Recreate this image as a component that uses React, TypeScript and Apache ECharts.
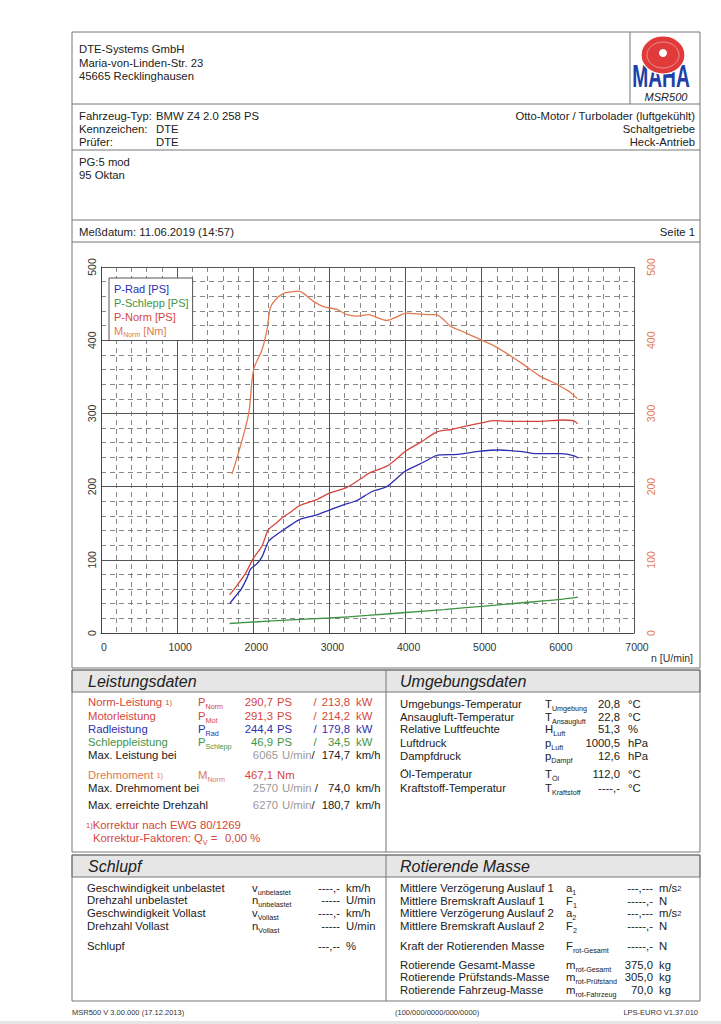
import React, { useEffect, useRef } from "react";
import * as echarts from "echarts";

// ---- chart data ----
const rpmRad = [1689, 1780, 1842, 1920, 1962, 2050, 2115, 2200, 2300, 2398, 2500, 2607, 2825, 3000, 3185, 3360, 3556, 3753, 3870, 3994, 4190, 4300, 4421, 4683, 4956, 5230, 5500, 5721, 6049, 6213, 6268];
const psRad = [40, 52, 60, 76, 87, 95, 104, 125, 134, 141, 148, 155, 161, 168, 175, 181, 193, 200, 210, 221, 231, 237, 243, 244, 248, 250, 248, 245, 245, 242, 239];

const rpmSchlepp = [1690, 2000, 2500, 3000, 3500, 4000, 4500, 5000, 5500, 6000, 6265];
const psSchlepp = [13, 15, 18, 20.5, 24, 28, 32, 36.5, 41, 45.5, 49];

const rpmNorm = [1689, 1787, 1896, 1995, 2115, 2197, 2300, 2388, 2500, 2607, 2825, 3000, 3229, 3400, 3534, 3753, 3870, 3994, 4190, 4421, 4600, 4809, 5000, 5164, 5437, 5765, 6066, 6202, 6260];
const psNorm = [52, 65, 81, 101, 119, 141, 150, 158, 166, 174, 182, 191, 199, 210, 219, 228, 237, 248, 260, 275, 278, 283, 287, 290, 289, 289, 291, 290, 286];

const rpmTorque = [1720, 1830, 1940, 2005, 2115, 2180, 2223, 2289, 2398, 2500, 2594, 2660, 2791, 2922, 3098, 3229, 3360, 3512, 3600, 3753, 3885, 4016, 4150, 4278, 4400, 4500, 4590, 4700, 4809, 5000, 5150, 5328, 5546, 5765, 5984, 6100, 6175, 6257];
const nmTorque = [217, 255, 300, 360, 387, 414, 444, 455, 464, 466, 467, 464, 453, 446, 442, 435, 433, 435, 432, 427, 432, 437, 436, 435, 435, 428, 419, 414, 409, 400, 393, 382, 367, 351, 340, 333, 328, 320];

const seriesNames = ["P-Rad [PS]", "P-Schlepp [PS]", "P-Norm [PS]", "M_Norm [Nm]"];

// ---- table texts ----
const leistRows = [
  { label: "Norm-Leistung", sup: "1)", sym: "P", sub: "Norm", v1: "290,7", v2: "213,8", c: "red" },
  { label: "Motorleistung", sup: "", sym: "P", sub: "Mot", v1: "291,3", v2: "214,2", c: "red" },
  { label: "Radleistung", sup: "", sym: "P", sub: "Rad", v1: "244,4", v2: "179,8", c: "blue" },
  { label: "Schleppleistung", sup: "", sym: "P", sub: "Schlepp", v1: "46,9", v2: "34,5", c: "green" },
];
const maxRows = [
  { label: "Max. Leistung bei", n: "6065", spaced: false, v: "174,7" },
  { label: "Max. Drehmoment bei", n: "2570", spaced: true, v: "74,0" },
  { label: "Max. erreichte Drehzahl", n: "6270", spaced: false, v: "180,7" },
];
const umgRows: [string, string, string, string, string][] = [
  ["Umgebungs-Temperatur", "T", "Umgebung", "20,8", "°C"],
  ["Ansaugluft-Temperatur", "T", "Ansaugluft", "22,8", "°C"],
  ["Relative Luftfeuchte", "H", "Luft", "51,3", "%"],
  ["Luftdruck", "p", "Luft", "1000,5", "hPa"],
  ["Dampfdruck", "p", "Dampf", "12,6", "hPa"],
  ["Öl-Temperatur", "T", "Öl", "112,0", "°C"],
  ["Kraftstoff-Temperatur", "T", "Kraftstoff", "----,-", "°C"],
];
const umgY = [704, 717, 729, 743, 756, 774, 788];
const schlupfRows: [string, string, string, string, string][] = [
  ["Geschwindigkeit unbelastet", "v", "unbelastet", "----,-", "km/h"],
  ["Drehzahl unbelastet", "n", "unbelastet", "-----", "U/min"],
  ["Geschwindigkeit Vollast", "v", "Vollast", "----,-", "km/h"],
  ["Drehzahl Vollast", "n", "Vollast", "-----", "U/min"],
  ["Schlupf", "", "", "---,--", "%"],
];
const schlupfY = [888, 900, 913, 926, 946];
const rotRows: [string, string, string, string, string][] = [
  ["Mittlere Verzögerung Auslauf 1", "a", "1", "---,---", "m/s2"],
  ["Mittlere Bremskraft Auslauf 1", "F", "1", "-----,-", "N"],
  ["Mittlere Verzögerung Auslauf 2", "a", "2", "---,---", "m/s2"],
  ["Mittlere Bremskraft Auslauf 2", "F", "2", "-----,-", "N"],
  ["Kraft der Rotierenden Masse", "F", "rot-Gesamt", "-----,-", "N"],
  ["Rotierende Gesamt-Masse", "m", "rot-Gesamt", "375,0", "kg"],
  ["Rotierende Prüfstands-Masse", "m", "rot-Prüfstand", "305,0", "kg"],
  ["Rotierende Fahrzeug-Masse", "m", "rot-Fahrzeug", "70,0", "kg"],
];
const rotY = [888, 901, 913, 926, 946, 965, 977, 990];

const FONT = "'Liberation Sans', Arial, sans-serif";
const INK = "#222";
const GRAY = "#9a9a9a";
const COL: Record<string, string> = {
  red: "#d6463c",
  blue: "#2c30b0",
  green: "#3f9444",
  orange: "#e27a52",
};
const LINE = "#777";
const TS = 11.3;

function txt(x: number, y: number, text: string, o: any = {}) {
  return {
    type: "text",
    x,
    y,
    silent: true,
    z: 10,
    style: {
      text,
      fill: o.fill || INK,
      fontSize: o.size || TS,
      fontFamily: FONT,
      fontStyle: o.italic ? "italic" : "normal",
      fontWeight: o.bold ? "bold" : "normal",
      align: o.align || "left",
      verticalAlign: "middle",
    },
  };
}

function richTxt(x: number, y: number, text: string, color: string, o: any = {}) {
  const size = o.size || TS;
  return {
    type: "text",
    x,
    y,
    silent: true,
    z: 10,
    style: {
      text,
      fill: color,
      fontSize: size,
      fontFamily: FONT,
      align: o.align || "left",
      verticalAlign: "middle",
      rich: {
        m: { fontSize: size, fill: color, fontFamily: FONT, lineHeight: 16, verticalAlign: "middle" },
        s: { fontSize: 7.2, fill: color, fontFamily: FONT, verticalAlign: "bottom" },
        u: { fontSize: 7.5, fill: color, fontFamily: FONT, verticalAlign: "middle" },
        g: { fontSize: size, fill: GRAY, fontFamily: FONT, lineHeight: 16 },
        k: { fontSize: size, fill: INK, fontFamily: FONT, lineHeight: 16 },
      },
    },
  };
}

function sym(x: number, y: number, s: string, sub: string, color: string) {
  if (!s) return null;
  return richTxt(x, y, `{m|${s}}{s|${sub}}`, color);
}

function hline(y: number, x1 = 72, x2 = 700, color = LINE) {
  return { type: "line", silent: true, z: 5, shape: { x1, y1: y, x2, y2: y }, style: { stroke: color, lineWidth: 1 } };
}
function vline(x: number, y1: number, y2: number, color = LINE) {
  return { type: "line", silent: true, z: 5, shape: { x1: x, y1, x2: x, y2 }, style: { stroke: color, lineWidth: 1 } };
}
function rect(x: number, y: number, w: number, h: number, fill = "none", stroke = LINE) {
  return { type: "rect", silent: true, z: 4, shape: { x, y, width: w, height: h }, style: { fill, stroke, lineWidth: 1 } };
}

function buildGraphics() {
  const g: any[] = [];
  // outer frame (header + chart)
  g.push(rect(72, 32, 628, 636));
  g.push(hline(104));
  g.push(vline(630, 32, 104));
  g.push(hline(150));
  g.push(hline(220));
  g.push(hline(242));

  // header
  g.push(txt(79, 49, "DTE-Systems GmbH"));
  g.push(txt(79, 63, "Maria-von-Linden-Str. 23"));
  g.push(txt(79, 76, "45665 Recklinghausen"));
  g.push(txt(666, 97, "MSR500", { italic: true, size: 11, align: "center" }));
  // logo
  g.push({
    type: "text",
    x: 661,
    y: 76,
    scaleX: 0.6,
    silent: true,
    z: 10,
    style: { text: "MAHA", fontSize: 32, fontWeight: 900, fontFamily: FONT, fill: "#1e3fa8", align: "center", verticalAlign: "middle" },
  });
  g.push({ type: "ellipse", silent: true, z: 11, shape: { cx: 663, cy: 55, rx: 22, ry: 19 }, style: { fill: "#e03a3a", stroke: "#fff", lineWidth: 1.2 } });
  g.push({ type: "ellipse", silent: true, z: 12, shape: { cx: 663, cy: 55, rx: 16, ry: 13 }, style: { fill: "none", stroke: "#f4b0b0", lineWidth: 0.7 } });
  g.push({ type: "circle", silent: true, z: 12, shape: { cx: 663, cy: 53, r: 4 }, style: { fill: "#fff" } });

  // vehicle
  g.push(txt(79, 116, "Fahrzeug-Typ:"));
  g.push(txt(156, 116, "BMW Z4 2.0 258 PS"));
  g.push(txt(79, 129, "Kennzeichen:"));
  g.push(txt(156, 129, "DTE"));
  g.push(txt(79, 142, "Prüfer:"));
  g.push(txt(156, 142, "DTE"));
  g.push(txt(695, 116, "Otto-Motor / Turbolader (luftgekühlt)", { align: "right" }));
  g.push(txt(695, 129, "Schaltgetriebe", { align: "right" }));
  g.push(txt(695, 142, "Heck-Antrieb", { align: "right" }));
  g.push(txt(79, 162, "PG:5 mod"));
  g.push(txt(79, 175, "95 Oktan"));
  g.push(txt(79, 232, "Meßdatum: 11.06.2019 (14:57)"));
  g.push(txt(695, 232, "Seite 1", { align: "right" }));

  // axis name
  g.push(txt(693, 658, "n [U/min]", { align: "right", size: 10.5, fill: "#333" }));

  // section boxes
  const DIV = 386;
  g.push(rect(72, 670, 628, 22, "#e6e6e6"));
  g.push(rect(72, 670, 628, 182));
  g.push(vline(DIV, 670, 852));
  g.push(rect(72, 855, 628, 22, "#e6e6e6"));
  g.push(rect(72, 855, 628, 146));
  g.push(vline(DIV, 855, 1001));

  g.push(txt(88, 681, "Leistungsdaten", { italic: true, size: 16 }));
  g.push(txt(400, 681, "Umgebungsdaten", { italic: true, size: 16 }));
  g.push(txt(88, 866, "Schlupf", { italic: true, size: 16 }));
  g.push(txt(400, 866, "Rotierende Masse", { italic: true, size: 16 }));

  // Leistungsdaten
  const ly = [702, 716, 729, 742];
  leistRows.forEach((r, i) => {
    const c = COL[r.c];
    const y = ly[i];
    g.push(richTxt(88, y, r.sup ? `{m|${r.label} }{u|${r.sup}}` : `{m|${r.label}}`, c));
    g.push(sym(198, y, r.sym, r.sub, c));
    g.push(txt(273, y, r.v1, { align: "right", fill: c }));
    g.push(txt(277, y, "PS", { fill: c }));
    g.push(txt(315, y, "/", { align: "center", fill: c }));
    g.push(txt(350, y, r.v2, { align: "right", fill: c }));
    g.push(txt(356, y, "kW", { fill: c }));
  });
  const my = [755, 788, 805];
  maxRows.forEach((r, i) => {
    const y = my[i];
    g.push(txt(88, y, r.label));
    g.push(txt(278, y, r.n, { align: "right", fill: GRAY }));
    g.push(richTxt(282, y, r.spaced ? "{g|U/min }{k|/}" : "{g|U/min}{k|/}", INK));
    g.push(txt(350, y, r.v, { align: "right" }));
    g.push(txt(356, y, "km/h"));
  });
  g.push(richTxt(88, 775, "{m|Drehmoment }{u|1)}", COL.orange));
  g.push(sym(198, 775, "M", "Norm", COL.orange));
  g.push(txt(273, 775, "467,1", { align: "right", fill: COL.red }));
  g.push(txt(277, 775, "Nm", { fill: COL.red }));
  g.push(richTxt(86, 825, "{u|1)}{m|Korrektur nach EWG 80/1269}", COL.red));
  g.push(richTxt(93, 838, "{m|Korrektur-Faktoren: Q}{s|V}{m| =}", COL.red));
  g.push(txt(225, 838, "0,00 %", { fill: COL.red }));

  // Umgebungsdaten
  umgRows.forEach((r, i) => {
    const y = umgY[i];
    g.push(txt(400, y, r[0]));
    g.push(sym(545, y, r[1], r[2], INK));
    g.push(txt(620, y, r[3], { align: "right" }));
    g.push(txt(628, y, r[4]));
  });

  // Schlupf
  schlupfRows.forEach((r, i) => {
    const y = schlupfY[i];
    g.push(txt(87, y, r[0]));
    const s = sym(252, y, r[1], r[2], INK);
    if (s) g.push(s);
    g.push(txt(340, y, r[3], { align: "right" }));
    g.push(txt(346, y, r[4]));
  });

  // Rotierende Masse
  rotRows.forEach((r, i) => {
    const y = rotY[i];
    g.push(txt(400, y, r[0]));
    g.push(sym(566, y, r[1], r[2], INK));
    g.push(txt(653, y, r[3], { align: "right" }));
    if (r[4] === "m/s2") g.push(richTxt(659, y, "{m|m/s}{u|2}", INK));
    else g.push(txt(659, y, r[4]));
  });

  // footer
  g.push(txt(72, 1012, "MSR500 V 3.00.000 (17.12.2013)", { size: 7.5, fill: "#333" }));
  g.push(txt(395, 1012, "(100/000/0000/000/0000)", { size: 7.5, fill: "#333" }));
  g.push(txt(698, 1012, "LPS-EURO V1.37.010", { size: 7.5, fill: "#333", align: "right" }));
  g.push({ type: "rect", silent: true, z: 1, shape: { x: 0, y: 1021, width: 721, height: 3 }, style: { fill: "#e6e6e6" } });

  return g.filter(Boolean);
}

function zip(xs: number[], ys: number[]) {
  return xs.map((x, i) => [x, ys[i]]);
}

export default function App() {
  const ref = useRef<HTMLDivElement>(null);
  useEffect(() => {
    if (!ref.current) return;
    const chart = echarts.init(ref.current, undefined, { renderer: "svg" });
    const minorLine = { show: true, lineStyle: { color: "#6a6a6a", width: 0.8, type: [5, 4] } };
    const majorLine = { show: true, lineStyle: { color: "#555", width: 1, type: "solid" } };
    const lineSeries = (name: string, data: number[][], color: string, yIdx: number) => ({
      type: "line",
      name,
      data,
      yAxisIndex: yIdx,
      showSymbol: false,
      symbol: "none",
      smooth: 0.3,
      lineStyle: { color, width: 1.3 },
      itemStyle: { color },
      z: 3,
    });
    chart.setOption({
      animation: false,
      backgroundColor: "#fff",
      textStyle: { fontFamily: FONT },
      grid: { left: 101, top: 267, width: 533, height: 366, containLabel: false },
      xAxis: {
        type: "value",
        min: 0,
        max: 7000,
        interval: 1000,
        axisLine: { show: true, lineStyle: { color: "#444" } },
        axisTick: { show: false },
        axisLabel: {
          color: "#333",
          fontSize: 10.5,
          fontFamily: FONT,
          margin: 8,
          padding: [0, 0, 0, 6],
          formatter: (v: number) => String(v),
        },
        splitLine: majorLine,
        minorTick: { show: false, splitNumber: 5 },
        minorSplitLine: minorLine,
      },
      yAxis: [
        {
          type: "value",
          position: "left",
          min: 0,
          max: 500,
          interval: 100,
          axisLine: { show: true, lineStyle: { color: "#444" } },
          axisTick: { show: false },
          axisLabel: { rotate: 90, color: "#333", fontSize: 10.5, fontFamily: FONT, margin: 4, formatter: (v: number) => String(v) },
          splitLine: majorLine,
          minorTick: { show: false, splitNumber: 5 },
          minorSplitLine: minorLine,
        },
        {
          type: "value",
          position: "right",
          min: 0,
          max: 500,
          interval: 100,
          axisLine: { show: false },
          axisTick: { show: false },
          axisLabel: { rotate: 90, color: COL.orange, fontSize: 10.5, fontFamily: FONT, margin: 11, formatter: (v: number) => String(v) },
          splitLine: { show: false },
        },
      ],
      legend: {
        left: 109,
        top: 278,
        orient: "vertical",
        itemWidth: 0,
        itemHeight: 11,
        itemGap: 3,
        padding: [5, 4, 3, 0],
        borderColor: "#555",
        borderWidth: 1,
        backgroundColor: "#fff",
        selectedMode: false,
        icon: "rect",
        textStyle: {
          fontSize: 11,
          fontFamily: FONT,
          rich: {
            m: { color: COL.orange, fontSize: 11, fontFamily: FONT, lineHeight: 14 },
            s: { color: COL.orange, fontSize: 7, fontFamily: FONT, verticalAlign: "bottom" },
          },
        },
        formatter: (n: string) => (n === "M_Norm [Nm]" ? "{m|M}{s|Norm}{m| [Nm]}" : n),
        data: [
          { name: seriesNames[0], textStyle: { color: COL.blue } },
          { name: seriesNames[1], textStyle: { color: COL.green } },
          { name: seriesNames[2], textStyle: { color: COL.red } },
          { name: seriesNames[3], textStyle: { color: COL.orange } },
        ],
      },
      series: [
        lineSeries(seriesNames[0], zip(rpmRad, psRad), COL.blue, 0),
        lineSeries(seriesNames[1], zip(rpmSchlepp, psSchlepp), COL.green, 0),
        lineSeries(seriesNames[2], zip(rpmNorm, psNorm), COL.red, 0),
        lineSeries(seriesNames[3], zip(rpmTorque, nmTorque), COL.orange, 1),
      ],
      graphic: buildGraphics(),
    });
    return () => chart.dispose();
  }, []);
  return (
    <div
      ref={ref}
      style={{ position: "absolute", left: 0, top: 0, width: 721, height: 1024, background: "#fff" }}
    />
  );
}
